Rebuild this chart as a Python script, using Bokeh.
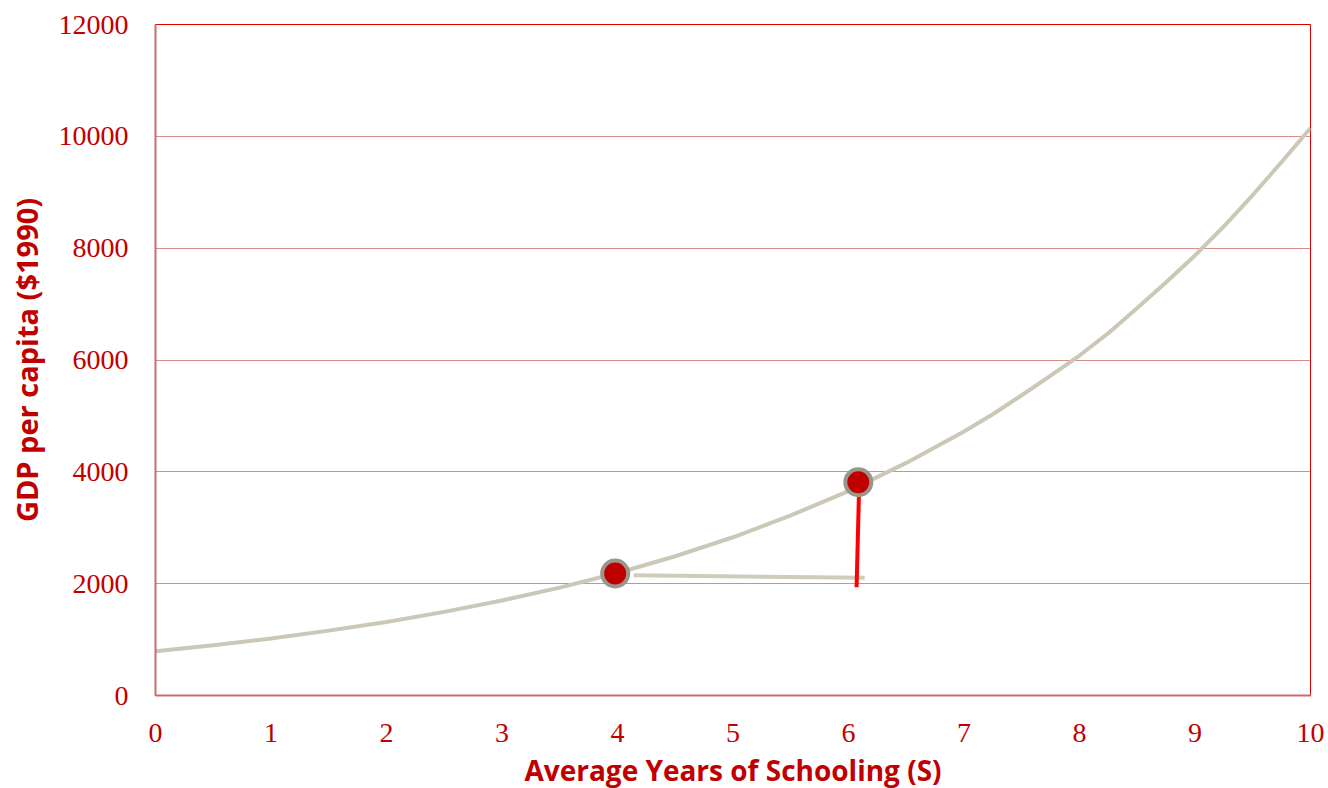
from bokeh.plotting import figure
from bokeh.models import FixedTicker, Range1d
from bokeh.embed import file_html
from bokeh.resources import INLINE

# Curve (GDP per capita vs schooling)
schooling = [0, 0.5, 1, 1.5, 2, 2.5, 3, 3.5, 4, 4.5, 5, 5.5, 6, 6.5, 7, 7.25, 7.5, 7.75,
             8, 8.25, 8.5, 8.75, 9, 9.25, 9.5, 9.75, 10]
gdp = [790, 898, 1020, 1160, 1315, 1495, 1700, 1930, 2190, 2490, 2830, 3220, 3655, 4160, 4720, 5030, 5370, 5720,
       6080, 6480, 6930, 7390, 7870, 8390, 8950, 9540, 10150]

# Two highlighted countries
point_x = [3.98, 6.085]
point_y = [2182, 3815]

# Guide segments
run_x = [4.14, 6.14]
run_y = [2150, 2105]
rise_x = [6.09, 6.07]
rise_y = [3560, 1935]

x_ticks = [0, 1, 2, 3, 4, 5, 6, 7, 8, 9, 10]
y_ticks = [0, 2000, 4000, 6000, 8000, 10000, 12000]

RED = "#c00000"

p = figure(frame_width=1155, frame_height=671, output_backend="svg", toolbar_location=None,
           x_range=Range1d(0, 10), y_range=Range1d(0, 12000),
           min_border_left=155, min_border_right=18, min_border_top=24, min_border_bottom=40)

p.line(schooling, gdp, line_color="#ccc8b8", line_width=4)
p.line(run_x, run_y, line_color="#d0ccbc", line_width=4)
p.line(rise_x, rise_y, line_color="#ff0000", line_width=4)
p.scatter(point_x, point_y, size=26, fill_color=RED, line_color="#9a968a", line_width=4)

p.xgrid.visible = False
p.ygrid.grid_line_color = "#d48c8c"
p.ygrid.grid_line_width = 1
p.ygrid.ticker = FixedTicker(ticks=y_ticks)

p.outline_line_color = "#dd0000"
p.outline_line_width = 1

for ax in (p.xaxis[0], p.yaxis[0]):
    ax.axis_line_color = "#cc6b6b"
    ax.axis_line_width = 2
    ax.major_tick_line_color = None
    ax.minor_tick_line_color = None
    ax.major_label_text_font = "Liberation Serif"
    ax.major_label_text_font_size = "28px"
    ax.major_label_text_color = RED
    ax.axis_label_text_font = "Open Sans"
    ax.axis_label_text_font_style = "bold"
    ax.axis_label_text_font_size = "28px"
    ax.axis_label_text_color = RED

p.yaxis.axis_label_text_font_size = "29px"
p.xaxis.ticker = FixedTicker(ticks=x_ticks)
p.yaxis.ticker = FixedTicker(ticks=y_ticks)
p.xaxis.axis_label = "Average Years of Schooling (S)"
p.yaxis.axis_label = "GDP per capita ($1990)"
p.xaxis.major_label_standoff = 22
p.xaxis.axis_label_standoff = 6
p.yaxis.major_label_standoff = 21
p.yaxis.axis_label_standoff = 10

open("out.html", "w").write(file_html(p, INLINE))
